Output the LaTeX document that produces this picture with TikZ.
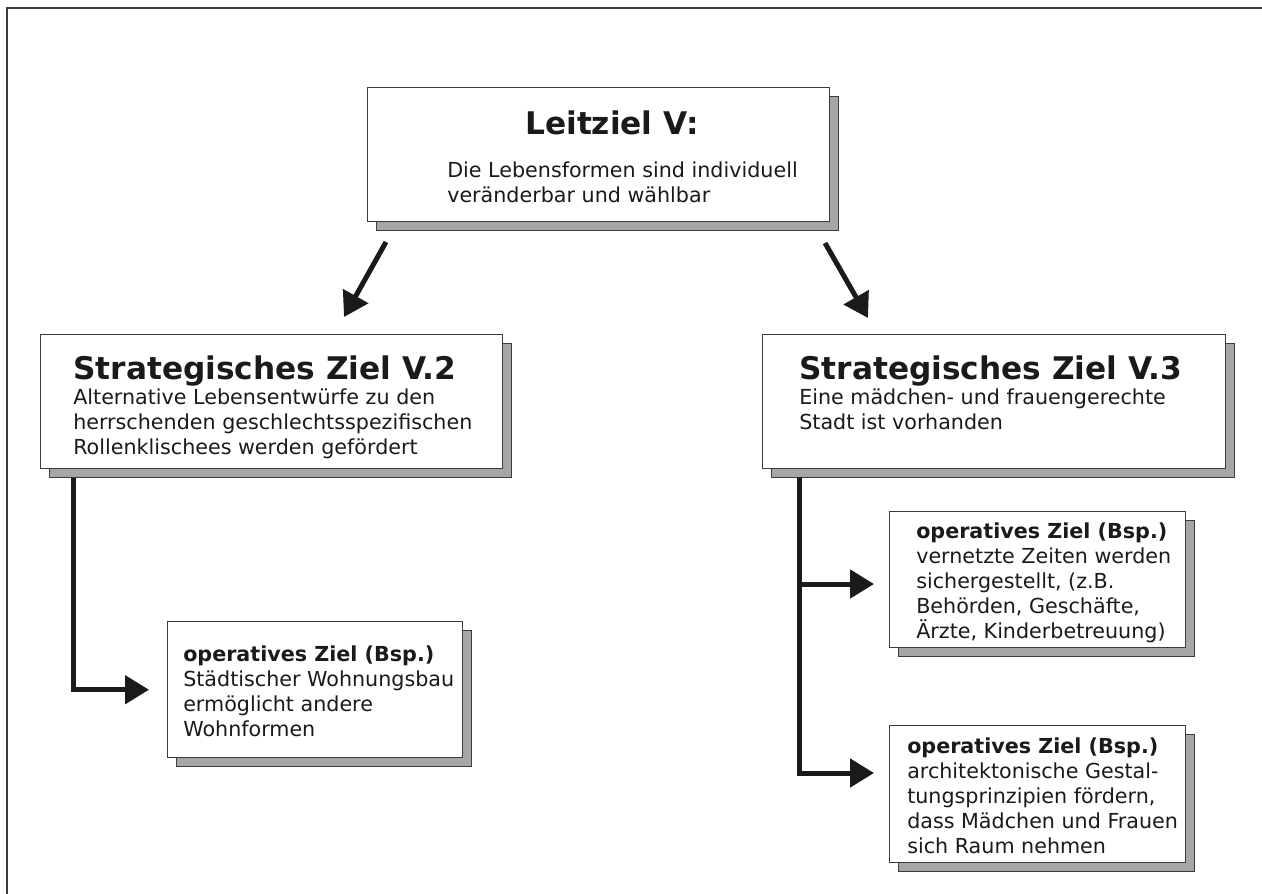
\documentclass[tikz,border=0pt]{standalone}
\usepackage{fontspec}
\setmainfont{DejaVu Sans}
\usetikzlibrary{arrows.meta,shadows,calc}
\definecolor{ink}{HTML}{1A1A1A}
\definecolor{edge}{HTML}{3C3C3C}
\definecolor{shade}{HTML}{A6A6A6}
\newcommand\headfont{\fontsize{23.4}{28}\selectfont\bfseries}
\newcommand\bodyfont{\fontsize{15.5}{18.75}\selectfont}
\tikzset{
  goal/.style={draw=edge, line width=1.1pt, fill=white, inner sep=0pt,
    anchor=north west, rectangle,
    copy shadow={shadow xshift=6.4pt, shadow yshift=-6.4pt, fill=shade, draw=edge}},
  head/.style={inner sep=0pt, anchor=base west, text=ink, font=\headfont},
  % multi-line texts are placed by the baseline of their last line
  body/.style={inner sep=0pt, anchor=base west, align=left, text=ink, font=\bodyfont},
  conn/.style={draw=ink, line width=3.75pt, line join=miter,
    -{Triangle[length=18pt,width=21pt]}},
  frame/.style={draw=edge, line width=1.5pt}
}
\begin{document}
\begin{tikzpicture}[x=0.75pt,y=-0.75pt]
  \useasboundingbox[fill=white] (0,0) rectangle (1262,893);
  \draw[frame] (7,8) rectangle (1300,920);

  % goal boxes
  \node[goal, minimum width=346.5pt, minimum height=100.5pt] (lz)  at (367,87) {};
  \node[goal, minimum width=346.5pt, minimum height=100.5pt] (v2)  at (40,334) {};
  \node[goal, minimum width=347.25pt, minimum height=100.5pt] (v3) at (762,334) {};
  \node[goal, minimum width=221.25pt, minimum height=102pt] (op1) at (167,621) {};
  \node[goal, minimum width=222pt, minimum height=102pt] (op2) at (889,511) {};
  \node[goal, minimum width=222pt, minimum height=102.75pt] (op3) at (889,725) {};

  % texts
  \node[head] (lzt) at (525,134) {Leitziel V:};
  \node[body] (lzb) at (447,202) {Die Lebensformen sind individuell\\veränderbar und wählbar};

  \node[head] (v2t) at (73,379) {Strategisches Ziel V.2};
  \node[body] (v2b) at (73,454) {Alternative Lebensentwürfe zu den\\herrschenden geschlechtsspezifischen\\Rollenklischees werden gefördert};

  \node[head] (v3t) at (799,379) {Strategisches Ziel V.3};
  \node[body] (v3b) at (799,429) {Eine mädchen- und frauengerechte\\Stadt ist vorhanden};

  \node[body] (op1t) at (183,736) {\textbf{operatives Ziel (Bsp.)}\\Städtischer Wohnungsbau\\ermöglicht andere\\Wohnformen};
  \node[body] (op2t) at (916,638) {\textbf{operatives Ziel (Bsp.)}\\vernetzte Zeiten werden\\sichergestellt, (z.B.\\Behörden, Geschäfte,\\Ärzte, Kinderbetreuung)};
  \node[body] (op3t) at (907,853) {\textbf{operatives Ziel (Bsp.)}\\architektonische Gestal-\\tungsprinzipien fördern,\\dass Mädchen und Frauen\\sich Raum nehmen};

  % connectors
  \coordinate (dl1) at (386,242);
  \coordinate (dl2) at (344,317);
  \coordinate (dr1) at (825,243);
  \coordinate (dr2) at (868,318);
  \draw[conn] (dl1) -- (dl2);
  \draw[conn] (dr1) -- (dr2);

  \draw[conn, shorten >=13.5pt] ($(v2.south west)+(33,9)$) |- (op1.west);

  \coordinate (trunk) at ($(v3.south west)+(37,8)$);
  \coordinate (jA) at (799,584);
  \coordinate (tA) at (874,584);
  \coordinate (tB) at (874,773);
  \draw[conn] (trunk) |- (tB);
  \draw[conn] ([xshift=-1.875pt]jA) -- (tA);
\end{tikzpicture}
\end{document}
